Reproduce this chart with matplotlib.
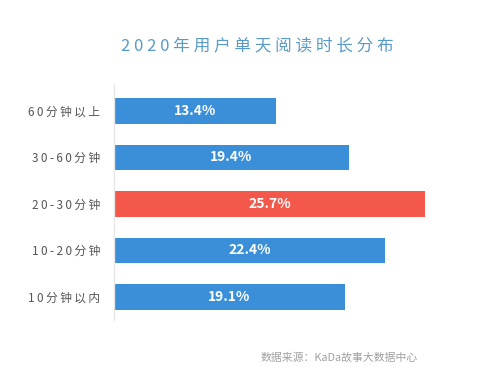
import matplotlib
matplotlib.use("Agg")
import matplotlib.pyplot as plt

plt.rcParams['font.family'] = ['Noto Sans CJK SC', 'DejaVu Sans']

# data, top to bottom
labels = ["60分钟以上", "30-60分钟", "20-30分钟", "10-20分钟", "10分钟以内"]
values = [13.4, 19.4, 25.7, 22.4, 19.1]
highlight = "20-30分钟"

blue = "#3b8fd9"
red = "#f4584a"
colors = [red if l == highlight else blue for l in labels]


def spaced(s):
    # the picture uses loose letter spacing
    return "\u2009".join(s)


fig = plt.figure(figsize=(4.99, 3.82), dpi=100)
ax = fig.add_axes([0.2285, 0.162, 0.727, 0.615])

ypos = list(range(len(labels)))
bars = ax.barh(ypos, values, height=0.55, color=colors)

for y, v in zip(ypos, values):
    ax.text(v / 2, y, "%.1f%%" % v, ha="center", va="center",
            color="white", fontsize=10, fontweight="bold")

ax.set_yticks(ypos)
ax.set_yticklabels([spaced(l) for l in labels], fontsize=8.5, color="#555555")
ax.tick_params(axis="y", length=0, pad=10)
ax.set_xticks([])
ax.set_xlim(0, 30)
ax.set_ylim(4.5, -0.55)

for s in ["top", "right", "bottom"]:
    ax.spines[s].set_visible(False)
ax.spines["left"].set_color("#e6e6e6")
ax.spines["left"].set_linewidth(1)

fig.text(0.515, 0.88, "2 0 2 0 年 用 户 单 天 阅 读 时 长 分 布", ha="center", va="center",
         fontsize=12, color="#5a9bc6")
fig.text(0.838, 0.063, "数据来源：KaDa故事大数据中心", ha="right", va="center",
         fontsize=7.8, color="#a0a0a0")

fig.savefig("out.png", dpi=100)
